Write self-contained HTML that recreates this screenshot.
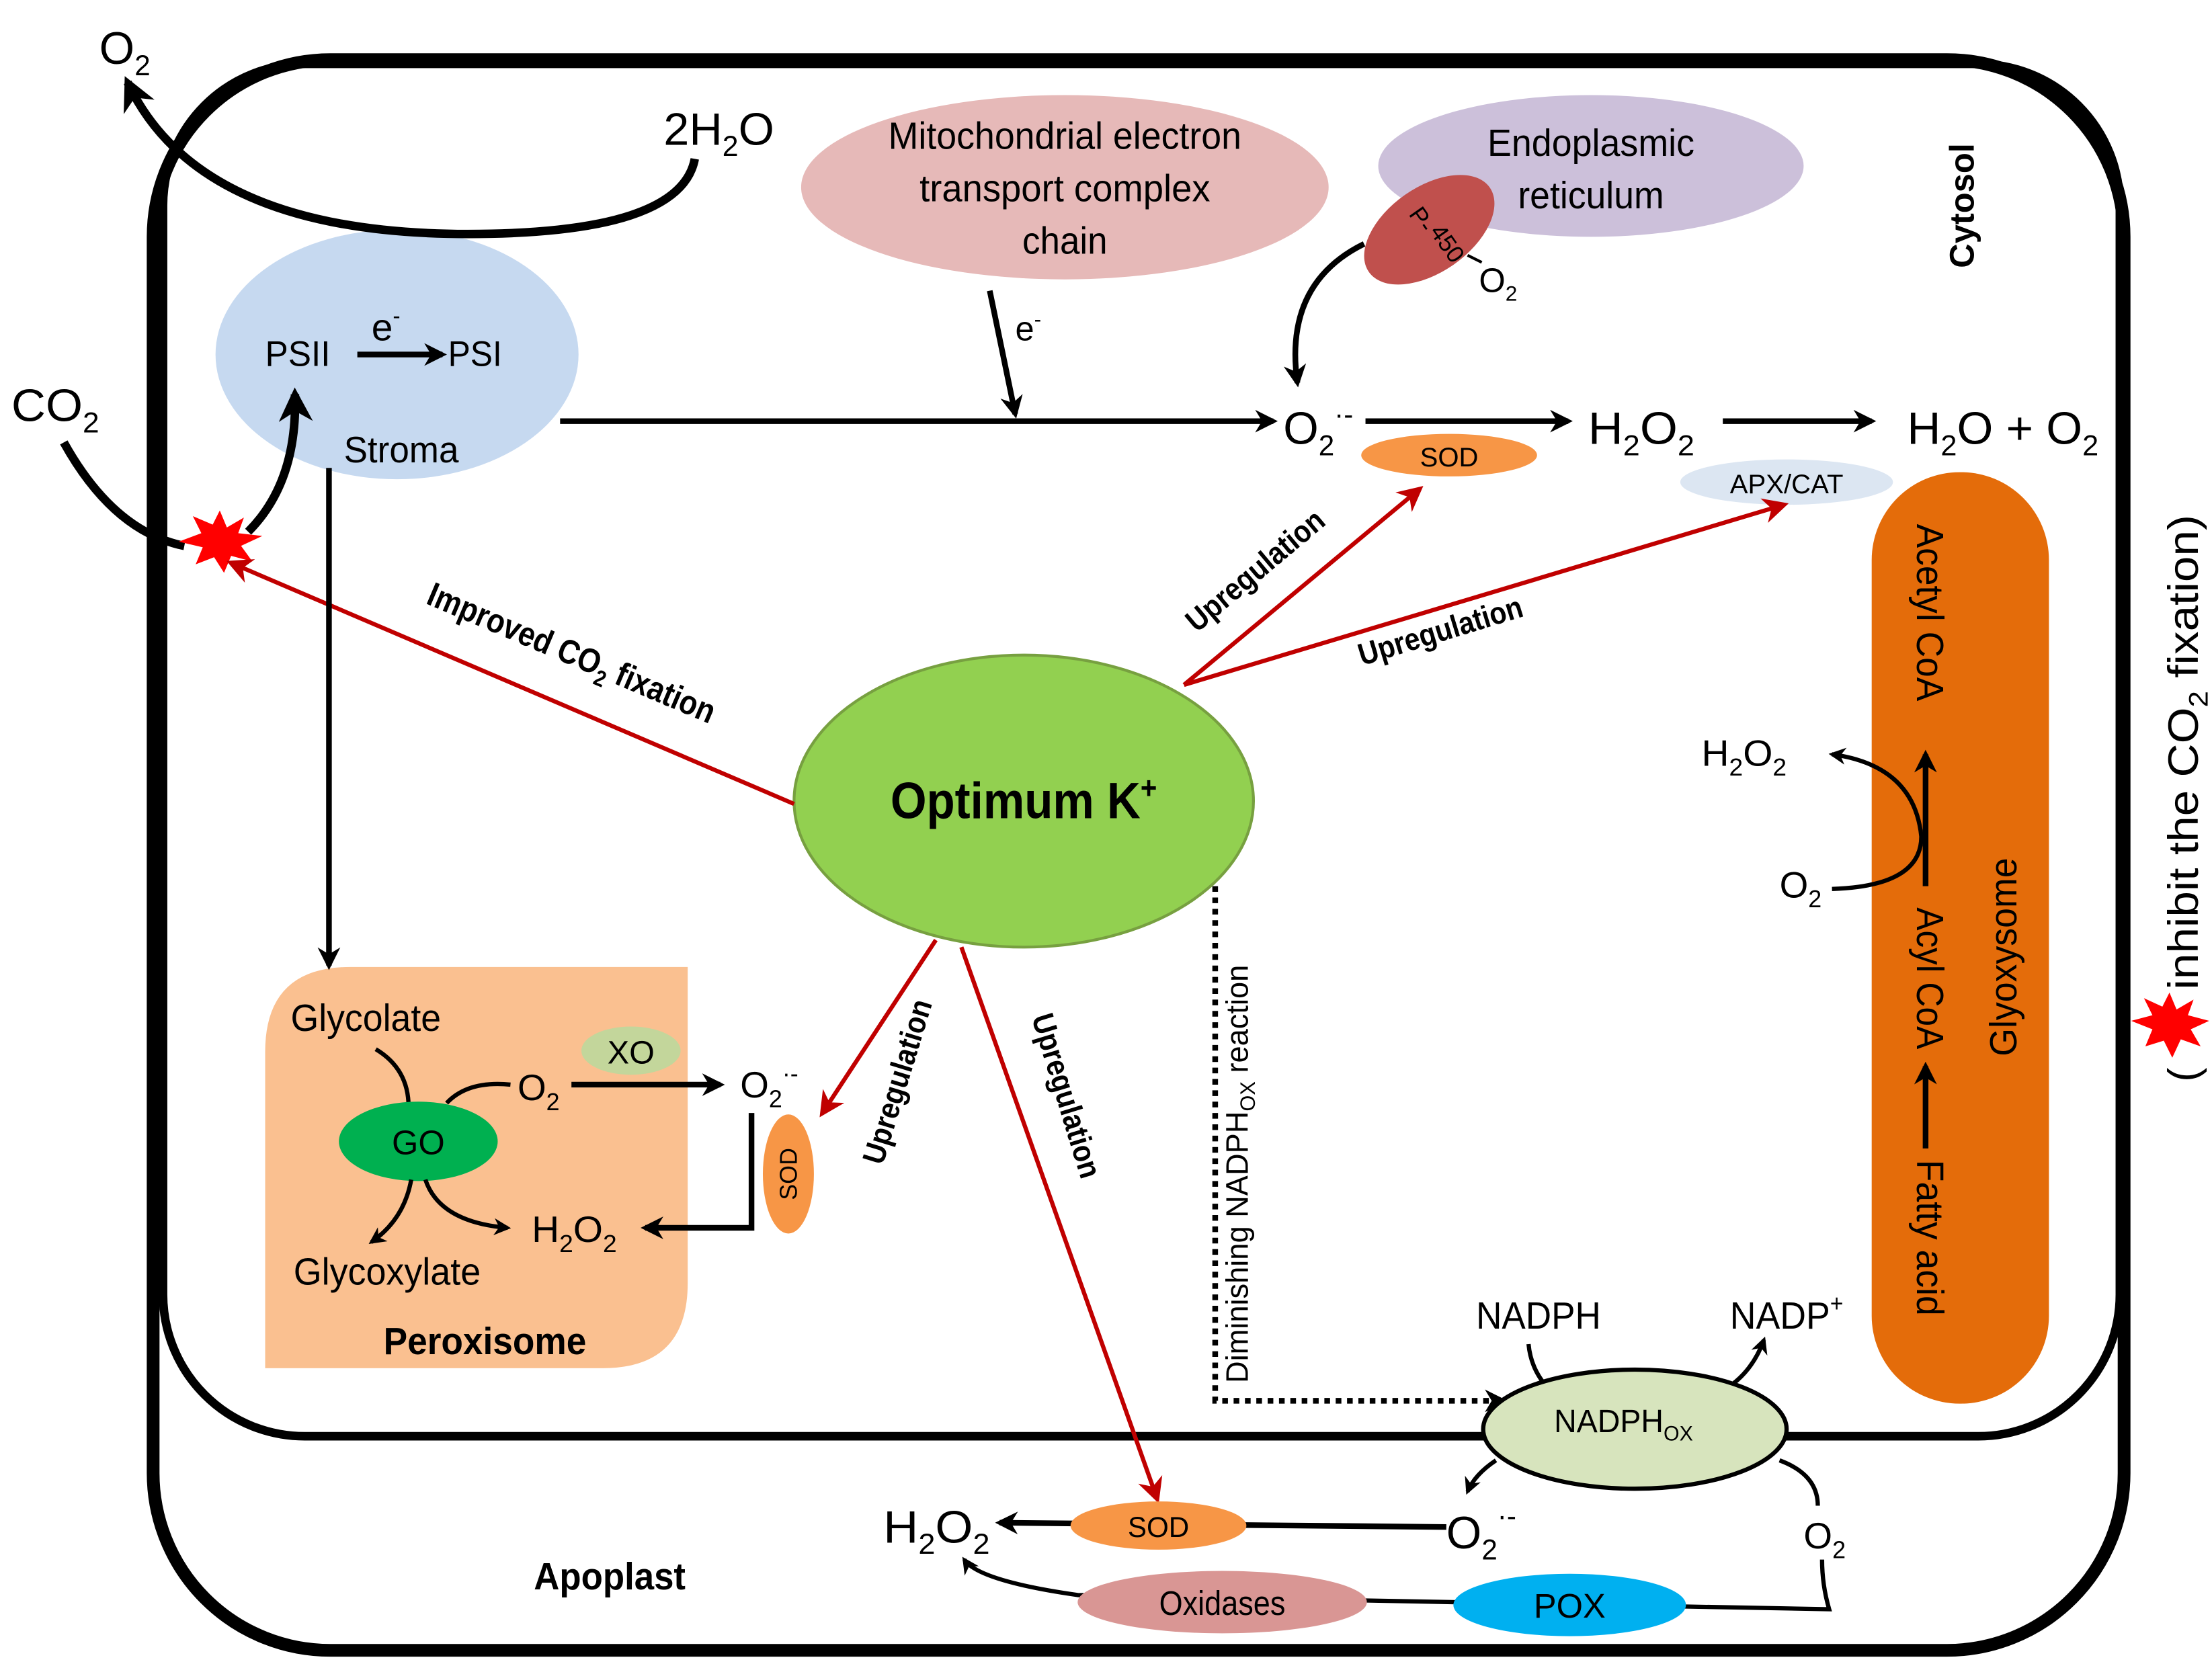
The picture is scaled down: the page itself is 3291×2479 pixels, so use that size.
<!DOCTYPE html>
<html><head><meta charset="utf-8"><style>
html,body{margin:0;padding:0;background:#fff}
svg{display:block}
text{font-family:"Liberation Sans Narrow","Liberation Sans",sans-serif;fill:#000}
.b{font-weight:bold}
</style></head><body>
<svg width="3291" height="2479" viewBox="0 0 1560 1175" xmlns="http://www.w3.org/2000/svg">
<defs>
<marker id="ak" viewBox="0 0 10 10" refX="8" refY="5" markerWidth="4" markerHeight="4" orient="auto-start-reverse"><path d="M0,0 L10,5 L0,10 L3,5 z" fill="#000"/></marker>
<marker id="ar" viewBox="0 0 10 10" refX="8" refY="5" markerWidth="6" markerHeight="6" orient="auto"><path d="M0,0 L10,5 L0,10 L3,5 z" fill="#c00000"/></marker>
</defs>
<!-- cell outlines -->
<rect x="108" y="42" width="1390" height="1122" rx="125" fill="none" stroke="#000" stroke-width="9"/>
<rect x="115" y="45" width="1380" height="968" rx="100" fill="none" stroke="#000" stroke-width="6"/>

<!-- peroxisome -->
<path d="M247,682 L485,682 L485,905 Q485,965 425,965 L187,965 L187,742 Q187,682 247,682 z" fill="#fac090"/>
<!-- glyoxysome -->
<rect x="1320" y="333" width="125" height="657" rx="62" fill="#e46c0a"/>

<!-- chloroplast stroma -->
<ellipse cx="280" cy="250" rx="128" ry="88" fill="#c6d9f0"/>
<text x="210" y="258" font-size="25" text-anchor="middle" textLength="46" lengthAdjust="spacingAndGlyphs">PSII</text>
<text x="262" y="240" font-size="27">e<tspan font-size="16" dy="-12">-</tspan></text>
<line x1="252" y1="250" x2="312" y2="250" stroke="#000" stroke-width="4" marker-end="url(#ak)"/>
<text x="335" y="258" font-size="25" text-anchor="middle" textLength="38" lengthAdjust="spacingAndGlyphs">PSI</text>
<text x="283" y="326" font-size="26" text-anchor="middle" textLength="81" lengthAdjust="spacingAndGlyphs">Stroma</text>

<!-- O2 / 2H2O -->
<text x="70" y="45" font-size="32">O<tspan font-size="20" dy="8">2</tspan></text>
<text x="468" y="102" font-size="32" textLength="78" lengthAdjust="spacingAndGlyphs">2H<tspan font-size="20" dy="8">2</tspan><tspan dy="-8">O</tspan></text>
<path d="M490,112 Q480,165 330,165 Q140,165 90,58" fill="none" stroke="#000" stroke-width="6" marker-end="url(#ak)"/>

<!-- CO2 -->
<text x="8" y="297" font-size="32" textLength="62" lengthAdjust="spacingAndGlyphs">CO<tspan font-size="20" dy="8">2</tspan></text>
<path d="M45,312 Q80,375 130,385" fill="none" stroke="#000" stroke-width="6"/>
<path d="M175,375 Q210,340 208,278" fill="none" stroke="#000" stroke-width="6" marker-end="url(#ak)"/>
<polygon points="155,360 160,372 172,365 168,376 185,378 170,385 178,396 163,392 158,404 151,393 138,398 143,386 126,382 142,376 136,364 150,370" fill="#ff0000"/>

<!-- mito -->
<ellipse cx="751" cy="132" rx="186" ry="65" fill="#e6b9b8"/>
<text x="751" y="105" font-size="27" text-anchor="middle" textLength="249" lengthAdjust="spacingAndGlyphs">Mitochondrial electron</text>
<text x="751" y="142" font-size="27" text-anchor="middle" textLength="205" lengthAdjust="spacingAndGlyphs">transport complex</text>
<text x="751" y="179" font-size="27" text-anchor="middle" textLength="60" lengthAdjust="spacingAndGlyphs">chain</text>
<line x1="698" y1="205" x2="716" y2="292" stroke="#000" stroke-width="4" marker-end="url(#ak)"/>
<text x="716" y="240" font-size="24">e<tspan font-size="15" dy="-10">-</tspan></text>

<!-- ER -->
<ellipse cx="1122" cy="117" rx="150" ry="50" fill="#ccc0da"/>
<text x="1122" y="110" font-size="27" text-anchor="middle" textLength="146" lengthAdjust="spacingAndGlyphs">Endoplasmic</text>
<text x="1122" y="147" font-size="27" text-anchor="middle" textLength="103" lengthAdjust="spacingAndGlyphs">reticulum</text>
<ellipse cx="1008" cy="162" rx="52" ry="30" fill="#c0504d" transform="rotate(-35 1008 162)"/>
<text x="998" y="158" font-size="17" transform="rotate(55 998 158)" text-anchor="middle">P-</text>
<text x="1016" y="175" font-size="17" transform="rotate(55 1016 175)" text-anchor="middle">450</text>
<line x1="1035" y1="180" x2="1045" y2="185" stroke="#000" stroke-width="2"/>
<text x="1043" y="206" font-size="24">O<tspan font-size="15" dy="6">2</tspan></text>
<path d="M962,172 Q905,200 915,270" fill="none" stroke="#000" stroke-width="4" marker-end="url(#ak)"/>
<text x="1392" y="145" font-size="24" class="b" text-anchor="middle" transform="rotate(-90 1392 145)">Cytosol</text>

<!-- main chain -->
<line x1="395" y1="297" x2="898" y2="297" stroke="#000" stroke-width="4" marker-end="url(#ak)"/>
<text x="905" y="313" font-size="32">O<tspan font-size="20" dy="8">2</tspan><tspan font-size="20" dy="-22">·-</tspan></text>
<line x1="963" y1="297" x2="1106" y2="297" stroke="#000" stroke-width="4" marker-end="url(#ak)"/>
<ellipse cx="1022" cy="321" rx="62" ry="15" fill="#f79646"/>
<text x="1022" y="329" font-size="19" text-anchor="middle">SOD</text>
<text x="1120" y="313" font-size="32" textLength="75" lengthAdjust="spacingAndGlyphs">H<tspan font-size="20" dy="8">2</tspan><tspan dy="-8">O</tspan><tspan font-size="20" dy="8">2</tspan></text>
<line x1="1215" y1="297" x2="1320" y2="297" stroke="#000" stroke-width="4" marker-end="url(#ak)"/>
<text x="1345" y="313" font-size="32" textLength="135" lengthAdjust="spacingAndGlyphs">H<tspan font-size="20" dy="8">2</tspan><tspan dy="-8">O + O</tspan><tspan font-size="20" dy="8">2</tspan></text>
<ellipse cx="1260" cy="340" rx="75" ry="16" fill="#dce6f2"/>
<text x="1260" y="348" font-size="19" text-anchor="middle" textLength="80" lengthAdjust="spacingAndGlyphs">APX/CAT</text>

<!-- glyoxysome content -->
<text x="1352" y="432" font-size="27" text-anchor="middle" transform="rotate(90 1352 432)" textLength="125" lengthAdjust="spacingAndGlyphs">Acetyl CoA</text>
<text x="1352" y="690" font-size="27" text-anchor="middle" transform="rotate(90 1352 690)" textLength="100" lengthAdjust="spacingAndGlyphs">Acyl CoA</text>
<text x="1352" y="873" font-size="27" text-anchor="middle" transform="rotate(90 1352 873)" textLength="110" lengthAdjust="spacingAndGlyphs">Fatty acid</text>
<text x="1422" y="675" font-size="27" text-anchor="middle" transform="rotate(-90 1422 675)" textLength="140" lengthAdjust="spacingAndGlyphs">Glyoxysome</text>
<line x1="1358" y1="810" x2="1358" y2="752" stroke="#000" stroke-width="4" marker-end="url(#ak)"/>
<line x1="1358" y1="625" x2="1358" y2="532" stroke="#000" stroke-width="4" marker-end="url(#ak)"/>
<path d="M1292,627 Q1355,625 1355,590 Q1350,540 1292,532" fill="none" stroke="#000" stroke-width="3" marker-end="url(#ak)"/>
<text x="1200" y="540" font-size="26" textLength="60" lengthAdjust="spacingAndGlyphs">H<tspan font-size="17" dy="7">2</tspan><tspan dy="-7">O</tspan><tspan font-size="17" dy="7">2</tspan></text>
<text x="1255" y="633" font-size="26">O<tspan font-size="17" dy="7">2</tspan></text>

<!-- right note -->
<text x="1550" y="763" font-size="30" transform="rotate(-90 1550 763)">(</text>
<text x="1550" y="698" font-size="30" transform="rotate(-90 1550 698)" textLength="335" lengthAdjust="spacingAndGlyphs">inhibit the CO<tspan font-size="19" dy="7">2</tspan><tspan dy="-7"> fixation)</tspan></text>
<polygon points="1530,700 1535,712 1547,705 1543,716 1558,720 1545,726 1552,738 1538,733 1532,746 1526,734 1513,738 1518,726 1503,720 1518,716 1512,704 1525,710" fill="#ff0000"/>

<!-- K+ -->
<ellipse cx="722" cy="565" rx="162" ry="103" fill="#92d050" stroke="#77a040" stroke-width="2"/>
<text x="722" y="577" font-size="36" class="b" text-anchor="middle" textLength="188" lengthAdjust="spacingAndGlyphs">Optimum K<tspan font-size="22" dy="-14">+</tspan></text>

<!-- red arrows -->
<line x1="560" y1="567" x2="163" y2="397" stroke="#c00000" stroke-width="3" marker-end="url(#ar)"/>
<text x="400" y="468" font-size="24" class="b" text-anchor="middle" transform="rotate(23 400 468)" textLength="218" lengthAdjust="spacingAndGlyphs">Improved CO<tspan font-size="16" dy="6">2</tspan><tspan dy="-6"> fixation</tspan></text>
<line x1="835" y1="483" x2="1001" y2="345" stroke="#c00000" stroke-width="3" marker-end="url(#ar)"/>
<text x="890" y="408" font-size="22" class="b" text-anchor="middle" transform="rotate(-40 890 408)" textLength="120" lengthAdjust="spacingAndGlyphs">Upregulation</text>
<line x1="835" y1="483" x2="1258" y2="356" stroke="#c00000" stroke-width="3" marker-end="url(#ar)"/>
<text x="1018" y="452" font-size="22" class="b" text-anchor="middle" transform="rotate(-17 1018 452)" textLength="120" lengthAdjust="spacingAndGlyphs">Upregulation</text>
<line x1="660" y1="663" x2="580" y2="785" stroke="#c00000" stroke-width="3" marker-end="url(#ar)"/>
<text x="640" y="765" font-size="22" class="b" text-anchor="middle" transform="rotate(-73 640 765)" textLength="120" lengthAdjust="spacingAndGlyphs">Upregulation</text>
<line x1="678" y1="668" x2="816" y2="1057" stroke="#c00000" stroke-width="3" marker-end="url(#ar)"/>
<text x="745" y="775" font-size="22" class="b" text-anchor="middle" transform="rotate(73 745 775)" textLength="120" lengthAdjust="spacingAndGlyphs">Upregulation</text>

<!-- dotted -->
<polyline points="857,625 857,988 1060,988" fill="none" stroke="#000" stroke-width="4" stroke-dasharray="4,4" marker-end="url(#ak)"/>
<text x="880" y="828" font-size="22" text-anchor="middle" transform="rotate(-90 880 828)" textLength="295" lengthAdjust="spacingAndGlyphs">Diminishing NADPH<tspan font-size="15" dy="5">OX</tspan><tspan dy="-5"> reaction</tspan></text>

<!-- chloroplast to peroxisome -->
<line x1="232" y1="330" x2="232" y2="681" stroke="#000" stroke-width="4" marker-end="url(#ak)"/>

<!-- peroxisome content -->
<text x="258" y="727" font-size="27" text-anchor="middle" textLength="106" lengthAdjust="spacingAndGlyphs">Glycolate</text>
<path d="M265,740 Q290,755 288,785" fill="none" stroke="#000" stroke-width="3"/>
<path d="M315,778 Q330,762 360,765" fill="none" stroke="#000" stroke-width="3"/>
<ellipse cx="295" cy="805" rx="56" ry="28" fill="#00b050"/>
<text x="295" y="814" font-size="24" text-anchor="middle">GO</text>
<text x="365" y="776" font-size="26">O<tspan font-size="17" dy="7">2</tspan></text>
<ellipse cx="445" cy="741" rx="35" ry="17" fill="#c3d69b"/>
<text x="445" y="750" font-size="23" text-anchor="middle">XO</text>
<line x1="403" y1="765" x2="508" y2="765" stroke="#000" stroke-width="4" marker-end="url(#ak)"/>
<text x="522" y="774" font-size="26">O<tspan font-size="17" dy="7">2</tspan><tspan font-size="17" dy="-18">·-</tspan></text>
<polyline points="530,785 530,866 455,866" fill="none" stroke="#000" stroke-width="4" marker-end="url(#ak)"/>
<ellipse cx="556" cy="828" rx="18" ry="42" fill="#f79646"/>
<text x="556" y="828" font-size="17" text-anchor="middle" transform="rotate(-90 556 828)" dy="6">SOD</text>
<text x="375" y="876" font-size="26" textLength="60" lengthAdjust="spacingAndGlyphs">H<tspan font-size="17" dy="7">2</tspan><tspan dy="-7">O</tspan><tspan font-size="17" dy="7">2</tspan></text>
<path d="M300,832 Q310,862 358,866" fill="none" stroke="#000" stroke-width="3" marker-end="url(#ak)"/>
<path d="M290,832 Q285,860 262,876" fill="none" stroke="#000" stroke-width="3" marker-end="url(#ak)"/>
<text x="273" y="906" font-size="27" text-anchor="middle" textLength="132" lengthAdjust="spacingAndGlyphs">Glycoxylate</text>
<text x="342" y="955" font-size="27" class="b" text-anchor="middle" textLength="143" lengthAdjust="spacingAndGlyphs">Peroxisome</text>

<!-- NADPH ox -->
<path d="M1078,948 Q1080,970 1098,985" fill="none" stroke="#000" stroke-width="3"/>
<path d="M1213,982 Q1235,970 1244,945" fill="none" stroke="#000" stroke-width="3" marker-end="url(#ak)"/>
<path d="M1255,1030 Q1282,1040 1282,1062" fill="none" stroke="#000" stroke-width="3"/>
<path d="M1055,1030 Q1040,1040 1035,1052" fill="none" stroke="#000" stroke-width="3" marker-end="url(#ak)"/>
<ellipse cx="1153" cy="1008" rx="107" ry="42" fill="#d7e4bd" stroke="#000" stroke-width="3"/>
<text x="1145" y="1010" font-size="23" text-anchor="middle" textLength="98" lengthAdjust="spacingAndGlyphs">NADPH<tspan font-size="15" dy="6">OX</tspan></text>
<text x="1085" y="937" font-size="27" text-anchor="middle" textLength="88" lengthAdjust="spacingAndGlyphs">NADPH</text>
<text x="1260" y="937" font-size="27" text-anchor="middle" textLength="80" lengthAdjust="spacingAndGlyphs">NADP<tspan font-size="17" dy="-12">+</tspan></text>

<!-- apoplast -->
<path d="M680,1100 Q690,1115 760,1125 L1290,1135 Q1285,1118 1285,1100" fill="none" stroke="#000" stroke-width="3" marker-start="url(#ak)"/>
<line x1="1020" y1="1077" x2="705" y2="1074" stroke="#000" stroke-width="4" marker-end="url(#ak)"/>
<ellipse cx="817" cy="1076" rx="62" ry="17" fill="#f79646"/>
<text x="817" y="1084" font-size="20" text-anchor="middle">SOD</text>
<text x="623" y="1088" font-size="32" textLength="75" lengthAdjust="spacingAndGlyphs">H<tspan font-size="20" dy="8">2</tspan><tspan dy="-8">O</tspan><tspan font-size="20" dy="8">2</tspan></text>
<text x="1020" y="1092" font-size="32">O<tspan font-size="20" dy="8">2</tspan><tspan font-size="20" dy="-24">·-</tspan></text>
<text x="1272" y="1092" font-size="26">O<tspan font-size="17" dy="7">2</tspan></text>
<ellipse cx="862" cy="1130" rx="102" ry="22" fill="#d99694"/>
<text x="862" y="1139" font-size="24" text-anchor="middle" textLength="89" lengthAdjust="spacingAndGlyphs">Oxidases</text>
<ellipse cx="1107" cy="1132" rx="82" ry="22" fill="#00b0f0"/>
<text x="1107" y="1141" font-size="24" text-anchor="middle">POX</text>
<text x="430" y="1121" font-size="27" class="b" text-anchor="middle" textLength="107" lengthAdjust="spacingAndGlyphs">Apoplast</text>
</svg>
</body></html>
